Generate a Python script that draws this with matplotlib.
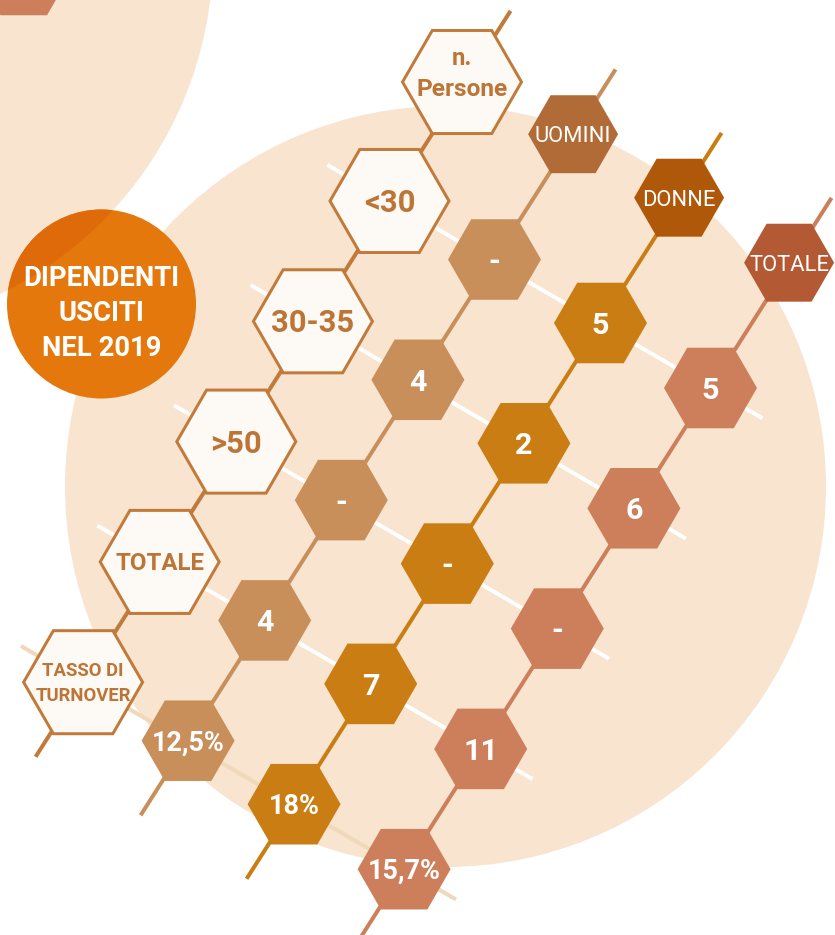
import numpy as np
import matplotlib
matplotlib.use("Agg")
import matplotlib.pyplot as plt
from matplotlib.patches import RegularPolygon, Circle

# ---------------- data ----------------
row_labels = ["<30", "30-35", ">50", "TOTALE", "TASSO DI\nTURNOVER"]
col_labels = ["UOMINI", "DONNE", "TOTALE"]
uomini = [0, 4, 0, 4]
donne = [5, 2, 0, 7]
totale = [5, 6, 0, 11]
turnover = [12.5, 18.0, 15.7]
title_lines = ["DIPENDENTI", "USCITI", "NEL 2019"]
corner_label = "n.\nPersone"

# ---------------- style ----------------
W, H = 835, 935
PX = 1 / 1.389  # px -> pt at 100 dpi
FONT = "Roboto"
PEACH = "#f8e4cf"
LABEL_EDGE = "#c27a3a"
LABEL_TEXT = "#bd7537"
LABEL_FILL = "#fdfaf6"
val_colors = ["#c98f5a", "#c97d12", "#cc7f5a"]
head_colors = ["#b06b37", "#b0580a", "#b35a35"]
line_colors = [LABEL_EDGE] + val_colors

fig = plt.figure(figsize=(W / 100, H / 100), dpi=100)
ax = fig.add_axes([0, 0, 1, 1])
ax.set_xlim(0, W)
ax.set_ylim(H, 0)
ax.axis("off")
fig.patch.set_facecolor("white")

# background circles
tl = Circle((-165, -46), 378, fc=PEACH, ec="none", zorder=0)
ax.add_patch(tl)
ax.add_patch(Circle((445.5, 486.5), 380.5, fc=PEACH, ec="none", zorder=0))

# corner hex fragment
ax.add_patch(RegularPolygon((23.75, -25), 6, radius=46.5, orientation=np.pi / 6,
                            fc="#cc7f5a", ec="none", zorder=1))

# orange title circle
ax.add_patch(Circle((101.5, 304), 94.5, fc="#e4780c", ec="none", zorder=5))
dark = Circle((101.5, 304), 94.5, fc="#df6a09", ec="none", zorder=5.1)
ax.add_patch(dark)
dark.set_clip_path(tl)
title_fs = 27.5
for k, t in enumerate(title_lines):
    ax.text(101.5, 286 + k * 35, t, color="white", fontsize=title_fs * PX,
            fontfamily=FONT, fontweight="bold", ha="center", va="baseline", zorder=6)

# geometry
origins = np.array([(389.5, 201), (494.5, 259.5), (600.5, 323), (710.5, 388)])
RS = np.array([-76.6, 120.3])


def pos(c, r):
    return origins[c] + r * RS


# column lines
for c in range(4):
    p0, p1 = pos(c, -1.58), pos(c, 4.62)
    ax.plot([p0[0], p1[0]], [p0[1], p1[1]], color=line_colors[c], lw=4 * PX,
            solid_capstyle="butt", zorder=2)

# row lines
for r in range(len(row_labels)):
    a, b = pos(0, r), pos(3, r)
    u = (b - a) / np.linalg.norm(b - a)
    s, e = a - 72 * u, b + 60 * u
    col = "white" if r < len(row_labels) - 1 else "#f0d8ba"
    ax.plot([s[0], e[0]], [s[1], e[1]], color=col, lw=4 * PX,
            solid_capstyle="butt", zorder=1.5)


def hexagon(xy, R, fc, ec="none", lw=0):
    ax.add_patch(RegularPolygon(xy, 6, radius=R, orientation=np.pi / 6,
                                fc=fc, ec=ec, lw=lw, zorder=3))


def stacked_text(x, yc, text, size_px, color, weight="bold", spacing=None):
    lines = text.split("\n")
    if spacing is None:
        spacing = size_px * 0.9
    n = len(lines)
    cap = 0.711 * size_px
    for k, ln in enumerate(lines):
        yb = yc + cap / 2 + (k - (n - 1) / 2) * spacing
        ax.text(x, yb, ln, color=color, fontsize=size_px * PX, fontfamily=FONT,
                fontweight=weight, ha="center", va="baseline", zorder=4)


# corner label hex
hexagon((462, 82), 59.5, LABEL_FILL, LABEL_EDGE, 3 * PX)
ax.text(462, 65, corner_label.split("\n")[0], color=LABEL_TEXT, fontsize=24 * PX,
        fontfamily=FONT, fontweight="bold", ha="center", va="baseline", zorder=4)
ax.text(462, 96.5, corner_label.split("\n")[1], color=LABEL_TEXT, fontsize=24.5 * PX,
        fontfamily=FONT, fontweight="bold", ha="center", va="baseline", zorder=4)

# row label hexes
label_sizes = [31, 31, 31, 24, 18.5]
for r, lab in enumerate(row_labels):
    p = pos(0, r)
    hexagon(p, 59.5, LABEL_FILL, LABEL_EDGE, 3 * PX)
    stacked_text(p[0], p[1], lab, label_sizes[r], LABEL_TEXT, spacing=25)

# column headers
head_shift = np.array([2, -5])
for c, lab in enumerate(col_labels):
    p = pos(c + 1, -1) + head_shift
    hexagon(p, 45, head_colors[c])
    stacked_text(p[0], p[1], lab, 22, "white", weight="normal")

# values
series = [uomini, donne, totale]
for c, vals in enumerate(series):
    for r, v in enumerate(vals):
        p = pos(c + 1, r)
        hexagon(p, 46.5, val_colors[c])
        stacked_text(p[0], p[1], "-" if v == 0 else str(v), 30.5, "white")
    p = pos(c + 1, len(vals))
    hexagon(p, 46.5, val_colors[c])
    txt = f"{turnover[c]:g}".replace(".", ",") + "%"
    stacked_text(p[0], p[1], txt, 27, "white")

fig.savefig("out.png", dpi=100, facecolor="white")
